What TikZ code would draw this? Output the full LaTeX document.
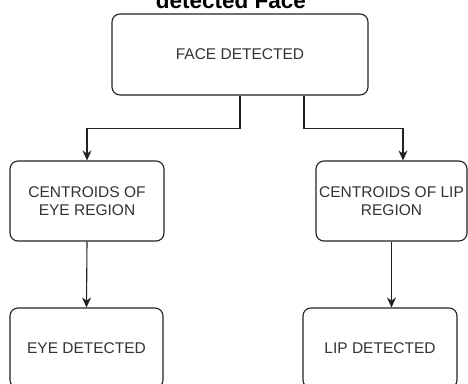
\documentclass[tikz,border=0pt]{standalone}
\usepackage{fontspec}
\setmainfont{Liberation Sans}
\usetikzlibrary{arrows.meta}
\definecolor{txt}{HTML}{333333}
\definecolor{ln}{HTML}{222222}
\tikzset{
  box/.style={draw=ln, line width=1.1pt, rounded corners=8pt, align=center, text=txt,
    font=\fontsize{15.5}{18}\selectfont, inner sep=0pt},
  conn/.style={draw=ln, line width=1.1pt, -{Stealth[length=10pt,width=9pt]}}
}
\begin{document}
\begin{tikzpicture}[x=1pt,y=-1pt]
\useasboundingbox (0,0) rectangle (468,383);
\clip (0,0) rectangle (468,383);
\fill[white] (0,0) rectangle (468,383);
\node[anchor=base, font=\bfseries\fontsize{22.5}{24}\selectfont] (title) at (231,8.7) {detected Face};
\node[box, minimum width=256pt, minimum height=81pt] (face) at (240,54.5) {FACE DETECTED};
\node[box, minimum width=154pt, minimum height=80pt] (eyec) at (87,201) {CENTROIDS OF\\EYE REGION};
\node[box, minimum width=151pt, minimum height=80pt] (lipc) at (391.5,201) {CENTROIDS OF LIP\\REGION};
\node[box, minimum width=153pt, minimum height=80pt] (eyed) at (86.5,348) {EYE DETECTED};
\node[box, minimum width=154pt, minimum height=80pt] (lipd) at (380,348) {LIP DETECTED};
\draw[conn] (face.south) -- ++(0,33) -| (eyec.north);
\draw[conn] ([xshift=64pt]face.south) -- ++(0,33) -| ([xshift=11.5pt]lipc.north);
\draw[conn] (eyec.south) -- (eyed.north);
\draw[conn] (lipc.south) -- (lipc.south |- lipd.north);
\end{tikzpicture}
\end{document}
